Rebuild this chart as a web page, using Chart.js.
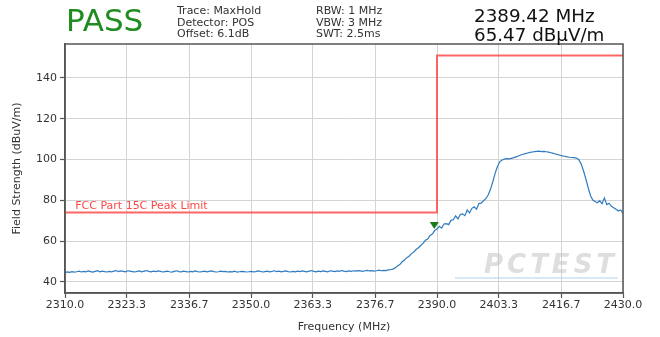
<!DOCTYPE html>
<html>
<head>
<meta charset="utf-8">
<script src="https://cdn.jsdelivr.net/npm/chart.js@4.4.1/dist/chart.umd.min.js"></script>
<style>
  html,body{margin:0;padding:0;background:#fff;}
  #wrap{position:relative;width:660px;height:337px;font-family:"DejaVu Sans",sans-serif;}
  canvas{position:absolute;left:0;top:0;}
  .hd{position:absolute;white-space:nowrap;color:#222;}
  #pass{left:66px;top:5px;font-size:31px;line-height:31px;color:#1e8c1e;}
  .info{font-size:11px;line-height:11.7px;color:#333;top:5px;}
  #c1{left:177px;}
  #c2{left:316px;}
  .big{left:474px;font-size:18.3px;line-height:19px;color:#111;}
  #m1{top:6px;}
  #m2{top:25px;}
  #wm{position:absolute;left:484px;top:249px;font-size:26px;font-style:italic;font-weight:bold;letter-spacing:4px;color:rgba(195,195,195,0.55);}
  #wmline{position:absolute;left:455px;top:277px;width:163px;height:2px;background:rgba(180,210,240,0.5);}
</style>
</head>
<body>
<div id="wrap">
  <canvas id="c" width="660" height="337"></canvas>
  <div id="wm">PCTEST</div>
  <div id="wmline"></div>
  <div class="hd" id="pass">PASS</div>
  <div class="hd info" id="c1">Trace: MaxHold<br>Detector: POS<br>Offset: 6.1dB</div>
  <div class="hd info" id="c2">RBW: 1 MHz<br>VBW: 3 MHz<br>SWT: 2.5ms</div>
  <div class="hd big" id="m1">2389.42 MHz</div>
  <div class="hd big" id="m2">65.47 dBµV/m</div>
</div>
<script>
// ---- data ----
const freqStart = 2310;
const freqStep = 0.5;
const traceValues = [
  44.6,44.9,44.7,45.1,44.8,45.0,45.3,44.9,45.2,45.0,45.4,45.1,44.8,45.2,45.5,45.0,45.3,45.1,44.9,45.2,
  45.0,45.3,45.6,45.1,45.4,45.2,45.0,45.5,45.3,45.1,44.9,45.2,45.4,45.0,45.3,45.6,45.2,45.0,45.3,45.1,
  45.4,45.2,44.9,45.1,45.3,45.0,44.8,45.2,45.5,45.1,45.0,45.3,45.1,44.9,45.2,45.0,45.4,45.1,44.9,45.1,
  45.3,45.0,45.2,45.4,45.1,44.9,45.0,45.3,45.1,45.2,44.9,45.1,45.0,45.3,44.8,45.0,45.2,45.1,44.9,45.0,
  45.2,45.0,45.1,45.4,45.2,44.9,45.1,45.3,45.0,45.2,45.5,45.1,45.3,45.0,45.2,45.4,45.1,44.9,45.2,45.0,
  45.3,45.1,45.4,45.2,45.0,45.3,45.6,45.2,45.0,45.3,45.1,45.4,45.2,45.0,45.5,45.3,45.1,45.4,45.2,45.6,
  45.3,45.1,45.4,45.2,45.5,45.3,45.6,45.4,45.2,45.5,45.7,45.4,45.6,45.3,45.5,45.8,45.5,45.7,45.6,45.9,
  46.0,46.3,46.9,47.8,48.5,49.9,50.8,51.9,52.6,53.9,54.7,55.9,56.8,57.9,58.9,60.4,61.0,62.8,63.5,65.2,
  65.9,67.3,66.4,68.4,68.6,68.1,70.2,70.5,72.4,70.9,73.1,73.4,72.5,75.3,73.9,76.1,76.8,75.7,78.4,78.6,
  79.8,80.8,82.6,85.4,89.1,93.2,96.6,98.9,99.8,100.2,100.4,100.3,100.6,100.9,101.3,101.7,102.2,102.6,102.9,103.2,
  103.5,103.7,103.9,104.0,104.1,103.9,104.0,103.8,103.6,103.3,103.0,102.7,102.4,102.1,101.8,101.6,101.3,101.1,101.0,100.9,
  100.7,99.9,97.8,94.5,90.6,86.3,82.4,80.1,79.4,78.8,79.9,78.3,81.2,77.9,78.6,77.1,76.4,75.6,74.8,75.3,
  73.6,74.1
];
const limitFreqs = [2310, 2390, 2390, 2430];
const limitValues = [74, 74, 151, 151];
const markerFreq = 2389.42;
const markerValue = 65.47;
const xTickValues = [2310.0, 2323.3, 2336.7, 2350.0, 2363.3, 2376.7, 2390.0, 2403.3, 2416.7, 2430.0];
const yTickValues = [40, 60, 80, 100, 120, 140];
const limitLabel = "FCC Part 15C Peak Limit";

// ---- build ----
const tracePoints = traceValues.map((v, i) => ({x: freqStart + i * freqStep, y: v}));
const limitPoints = limitFreqs.map((f, i) => ({x: f, y: limitValues[i]}));

const FONT = "'DejaVu Sans', sans-serif";
const frameColor = '#555';
const gridColor = '#d4d4d4';

const framePlugin = {
  id: 'frame',
  afterDatasetsDraw(chart) {
    const {ctx, chartArea: a, scales} = chart;
    ctx.save();
    ctx.font = "11px " + FONT;
    ctx.fillStyle = 'rgba(255,60,60,0.95)';
    ctx.textBaseline = 'alphabetic';
    ctx.fillText(limitLabel, scales.x.getPixelForValue(2312.2), scales.y.getPixelForValue(limitValues[0]) - 4);
    const mx = scales.x.getPixelForValue(markerFreq);
    const my = scales.y.getPixelForValue(markerValue);
    ctx.fillStyle = '#1a7a1a';
    ctx.beginPath();
    ctx.moveTo(mx, my - 1);
    ctx.lineTo(mx - 4.5, my - 8);
    ctx.lineTo(mx + 4.5, my - 8);
    ctx.closePath();
    ctx.fill();
    ctx.strokeStyle = frameColor;
    ctx.lineWidth = 1.5;
    ctx.strokeRect(a.left, a.top, a.right - a.left, a.bottom - a.top);
    ctx.restore();
  }
};

new Chart(document.getElementById('c'), {
  type: 'line',
  data: {
    datasets: [
      {
        label: 'Limit',
        data: limitPoints,
        borderColor: 'rgba(255,75,75,0.85)',
        borderWidth: 2,
        pointRadius: 0,
        tension: 0,
        order: 2
      },
      {
        label: 'Trace',
        data: tracePoints,
        borderColor: '#2f7bbf',
        borderWidth: 1.2,
        pointRadius: 0,
        tension: 0,
        order: 1
      }
    ]
  },
  options: {
    responsive: false,
    animation: false,
    events: [],
    layout: {padding: {top: 44, right: 37, left: 0, bottom: 0}},
    plugins: {legend: {display: false}, tooltip: {enabled: false}, title: {display: false}},
    scales: {
      x: {
        type: 'linear',
        min: 2310, max: 2430,
        afterBuildTicks: s => { s.ticks = xTickValues.map(v => ({value: v})); },
        afterFit: s => { s.height = 44; },
        ticks: {
          callback: v => Number(v).toFixed(1),
          font: {family: FONT, size: 11},
          color: '#333',
          padding: 1,
          maxRotation: 0,
          autoSkip: false
        },
        grid: {color: gridColor, lineWidth: 1, tickLength: 5, tickColor: frameColor, tickWidth: 1.2},
        border: {color: frameColor, width: 1.5},
        title: {display: true, text: 'Frequency (MHz)', font: {family: FONT, size: 11}, color: '#333', padding: {top: 0, bottom: 3}}
      },
      y: {
        min: 34.6, max: 156.6,
        afterBuildTicks: s => { s.ticks = yTickValues.map(v => ({value: v})); },
        afterFit: s => { s.width = 65; },
        ticks: {
          font: {family: FONT, size: 11},
          color: '#333',
          padding: 3
        },
        grid: {color: gridColor, lineWidth: 1, tickLength: 5, tickColor: frameColor, tickWidth: 1.2},
        border: {color: frameColor, width: 1.5},
        title: {display: true, text: 'Field Strength (dBuV/m)', font: {family: FONT, size: 11}, color: '#333', padding: {top: 11, bottom: 0}}
      }
    }
  },
  plugins: [framePlugin]
});
</script>
</body>
</html>
